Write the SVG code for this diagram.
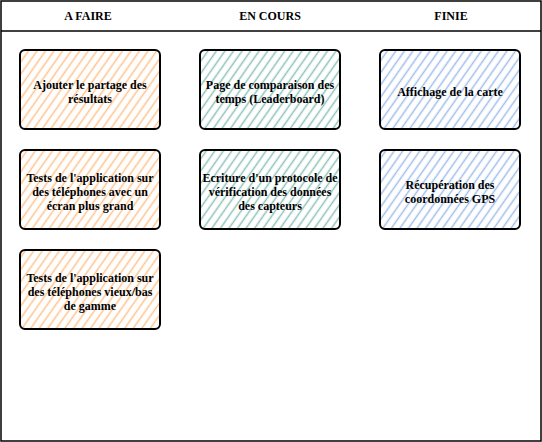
<svg xmlns="http://www.w3.org/2000/svg" width="542" height="442" viewBox="0 0 542 442">
<style>
.frame{fill:none;stroke:#000;stroke-width:1.5}
.card{stroke:#000;stroke-width:2;stroke-linejoin:round}
text{font-family:"Liberation Serif","Times New Roman",serif;font-weight:bold;font-size:12px;text-anchor:middle;fill:#000}
</style>
<defs>
<pattern id="hO" width="7" height="7" patternUnits="userSpaceOnUse" patternTransform="rotate(35)">
<line x1="3.5" y1="-1" x2="3.5" y2="8" stroke="#FFC38C" stroke-width="1.5"/>
</pattern>
<pattern id="hG" width="7" height="7" patternUnits="userSpaceOnUse" patternTransform="rotate(35)">
<line x1="3.5" y1="-1" x2="3.5" y2="8" stroke="#8EC2B8" stroke-width="1.5"/>
</pattern>
<pattern id="hB" width="7" height="7" patternUnits="userSpaceOnUse" patternTransform="rotate(35)">
<line x1="3.5" y1="-1" x2="3.5" y2="8" stroke="#A0BEEA" stroke-width="1.5"/>
</pattern>
</defs>
<rect width="542" height="442" fill="#fff"/>
<g id="board">
<rect class="frame" x="1" y="1" width="540" height="440"/>
<line class="frame" x1="1" y1="31" x2="541" y2="31"/>
<text x="88" y="20">A FAIRE</text>
<text x="270" y="20">EN COURS</text>
<text x="451" y="20">FINIE</text>
</g>
<g id="connectors"/>
<g id="card1">
<rect class="card" x="20" y="50" width="140" height="79" rx="5" fill="url(#hO)"/>
<text x="90" y="89">Ajouter le partage des</text>
<text x="90" y="103">résultats</text>
</g>
<g id="card2">
<rect class="card" x="20" y="150" width="140" height="79" rx="5" fill="url(#hO)"/>
<text x="90" y="182">Tests de l'application sur</text>
<text x="90" y="196">des téléphones avec un</text>
<text x="90" y="210">écran plus grand</text>
</g>
<g id="card3">
<rect class="card" x="20" y="250" width="140" height="79" rx="5" fill="url(#hO)"/>
<text x="90" y="282">Tests de l'application sur</text>
<text x="90" y="296">des téléphones vieux/bas</text>
<text x="90" y="310">de gamme</text>
</g>
<g id="card4">
<rect class="card" x="200" y="50" width="140" height="79" rx="5" fill="url(#hG)"/>
<text x="270" y="89">Page de comparaison des</text>
<text x="270" y="103">temps (Leaderboard)</text>
</g>
<g id="card5">
<rect class="card" x="200" y="150" width="140" height="79" rx="5" fill="url(#hG)"/>
<text x="270" y="182">Ecriture d'un protocole de</text>
<text x="270" y="196">vérification des données</text>
<text x="270" y="210">des capteurs</text>
</g>
<g id="card6">
<rect class="card" x="380" y="50" width="140" height="79" rx="5" fill="url(#hB)"/>
<text x="450" y="96">Affichage de la carte</text>
</g>
<g id="card7">
<rect class="card" x="380" y="150" width="140" height="79" rx="5" fill="url(#hB)"/>
<text x="450" y="189">Récupération des</text>
<text x="450" y="203">coordonnées GPS</text>
</g>
</svg>
